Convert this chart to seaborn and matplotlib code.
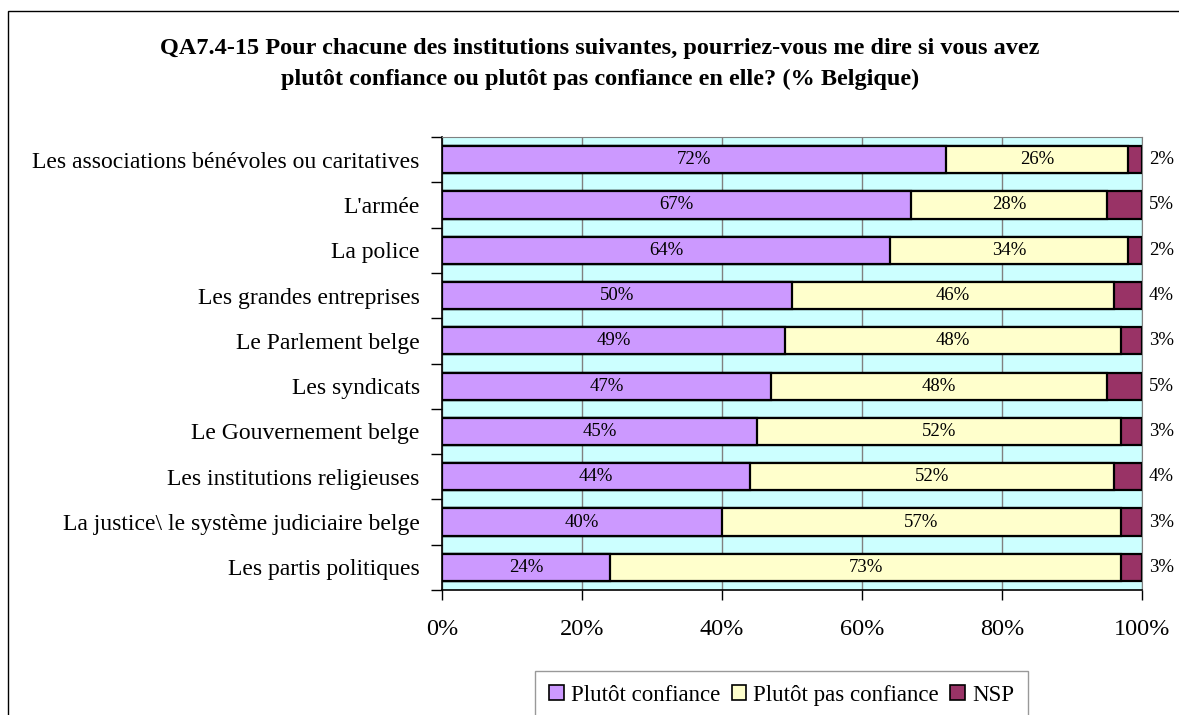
import matplotlib
matplotlib.use("Agg")
import matplotlib.pyplot as plt
import matplotlib.patches as mpatches
import seaborn as sns
import pandas as pd
import numpy as np

institutions = [
    "Les associations bénévoles ou caritatives",
    "L'armée",
    "La police",
    "Les grandes entreprises",
    "Le Parlement belge",
    "Les syndicats",
    "Le Gouvernement belge",
    "Les institutions religieuses",
    "La justice\\ le système judiciaire belge",
    "Les partis politiques",
]
confiance = [72, 67, 64, 50, 49, 47, 45, 44, 40, 24]
pas_confiance = [26, 28, 34, 46, 48, 48, 52, 52, 57, 73]
nsp = [2, 5, 2, 4, 3, 5, 3, 4, 3, 3]

series_names = ["Plutôt confiance", "Plutôt pas confiance", "NSP"]
colors = ["#CC99FF", "#FFFFCC", "#993366"]

df = pd.DataFrame({
    "institution": institutions,
    "conf": confiance,
    "pas": pas_confiance,
    "nsp": nsp,
})
df["cum1"] = df["conf"]
df["cum2"] = df["conf"] + df["pas"]
df["cum3"] = df["cum2"] + df["nsp"]

sns.set_style("white")
plt.rcParams["font.family"] = ["Liberation Serif", "DejaVu Serif"]
plt.rcParams["text.color"] = "black"
plt.rcParams["xtick.color"] = "black"
plt.rcParams["ytick.color"] = "black"

fig = plt.figure(figsize=(11.79, 7.15), dpi=100)
ax = fig.add_axes([0.3749, 0.1748, 0.5937, 0.6336])
ax.set_facecolor("#CCFFFF")

# stacked bars: draw cumulative totals from the back to the front
for col, color in zip(["cum3", "cum2", "cum1"], colors[::-1]):
    sns.barplot(data=df, x=col, y="institution", orient="h", color=color,
                width=0.6, edgecolor="black", linewidth=1.6, ax=ax,
                saturation=1, zorder=3)

# value labels
for i in range(len(institutions)):
    ax.text(confiance[i] / 2, i, f"{confiance[i]}%", ha="center", va="center",
            fontsize=13.5, zorder=5)
    ax.text(confiance[i] + pas_confiance[i] / 2, i, f"{pas_confiance[i]}%",
            ha="center", va="center", fontsize=13.5, zorder=5)
    ax.text(101, i, f"{nsp[i]}%", ha="left", va="center", fontsize=13.5,
            zorder=5, clip_on=False)

ax.set_xlim(0, 100)
ax.set_ylim(len(institutions) - 0.5, -0.5)
ax.set_xticks(np.arange(0, 101, 20))
ax.set_xticklabels([f"{v}%" for v in range(0, 101, 20)], fontsize=17.5)
ax.set_yticks(np.arange(-0.5, len(institutions), 1), minor=False)
ax.set_yticklabels([])
ax.set_yticks(np.arange(len(institutions)), minor=True)
ax.set_yticklabels(institutions, minor=True, fontsize=17)
ax.tick_params(axis="y", which="major", length=8, width=1, direction="out",
               left=True, color="black")
ax.tick_params(axis="y", which="minor", length=0, pad=16)
ax.tick_params(axis="x", length=7, width=1, direction="out", bottom=True,
               color="black", pad=14)
ax.set_xlabel("")
ax.set_ylabel("")

ax.grid(axis="x", color="#808080", linewidth=1, zorder=0)
ax.set_axisbelow(True)
for side in ["top", "right"]:
    ax.spines[side].set_color("#808080")
for side in ["left", "bottom"]:
    ax.spines[side].set_color("black")
    ax.spines[side].set_linewidth(1.2)

fig.text(0.509, 0.910,
         "QA7.4-15 Pour chacune des institutions suivantes, pourriez-vous me dire si vous avez\n"
         "plutôt confiance ou plutôt pas confiance en elle? (% Belgique)",
         ha="center", va="center", fontsize=17.5, fontweight="bold",
         linespacing=1.6)

handles = [mpatches.Patch(facecolor=c, edgecolor="black", linewidth=1.2, label=n)
           for c, n in zip(colors, series_names)]
leg = fig.legend(handles=handles, loc="upper center",
                 bbox_to_anchor=(0.663, 0.0615), ncol=3, frameon=True,
                 fontsize=16.5, handlelength=0.65, handleheight=0.65,
                 handletextpad=0.3, columnspacing=0.5, borderpad=0.6,
                 borderaxespad=0, fancybox=False)
leg.get_frame().set_edgecolor("#808080")
leg.get_frame().set_linewidth(1)

border = mpatches.Rectangle((8 / 1179, -0.2), 1.2, 0.2 + (1 - 11 / 715),
                            transform=fig.transFigure, fill=False,
                            edgecolor="black", linewidth=1, clip_on=False)
fig.patches.append(border)

fig.savefig("out.png", dpi=100)
